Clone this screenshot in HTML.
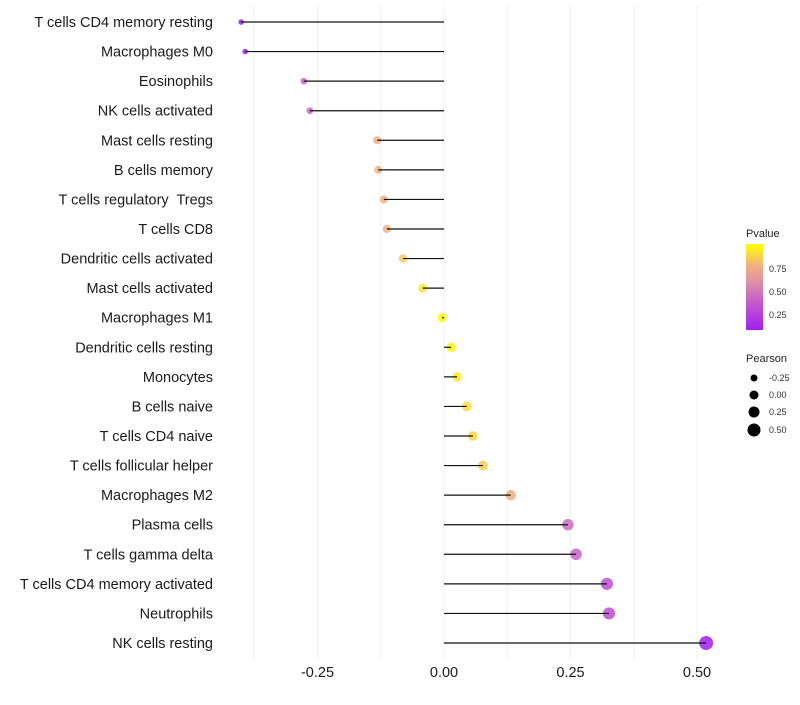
<!DOCTYPE html>
<html><head><meta charset="utf-8"><style>
body{margin:0;background:#fff;font-family:"Liberation Sans",sans-serif;}
svg text{font-family:"Liberation Sans",sans-serif;white-space:pre;}
</style></head><body>
<svg id="chart" width="800" height="700" xmlns="http://www.w3.org/2000/svg">
<defs><linearGradient id="pg" x1="0" y1="1" x2="0" y2="0">
<stop offset="0" stop-color="#a020f0"/><stop offset="0.35" stop-color="#c860c8"/><stop offset="0.55" stop-color="#dc90a8"/><stop offset="0.75" stop-color="#f0b080"/><stop offset="1" stop-color="#ffff00"/>
</linearGradient></defs>
<g id="grid"></g>
<g id="points"></g>
<g id="marks"></g>
<g id="labels"></g>
<g id="xticks"></g>
<g>
<text x="746" y="237" font-size="11" fill="#222">Pvalue</text>
<rect x="746" y="244" width="17" height="86" fill="url(#pg)"/>
<text x="769" y="272" font-size="9" fill="#333">0.75</text>
<text x="769" y="295" font-size="9" fill="#333">0.50</text>
<text x="769" y="318" font-size="9" fill="#333">0.25</text>
</g>
<g>
<text x="746" y="362" font-size="11" fill="#222">Pearson</text>
<circle cx="754" cy="378" r="3.5" fill="#000"/><text x="769" y="381" font-size="9" fill="#333">-0.25</text>
<circle cx="754" cy="395" r="4.5" fill="#000"/><text x="769" y="398" font-size="9" fill="#333">0.00</text>
<circle cx="754" cy="412" r="5.5" fill="#000"/><text x="769" y="415" font-size="9" fill="#333">0.25</text>
<circle cx="754" cy="430" r="6.5" fill="#000"/><text x="769" y="433" font-size="9" fill="#333">0.50</text>
</g>
</svg>
<script>
const categories=["T cells CD4 memory resting","Macrophages M0","Eosinophils","NK cells activated","Mast cells resting","B cells memory","T cells regulatory  Tregs","T cells CD8","Dendritic cells activated","Mast cells activated","Macrophages M1","Dendritic cells resting","Monocytes","B cells naive","T cells CD4 naive","T cells follicular helper","Macrophages M2","Plasma cells","T cells gamma delta","T cells CD4 memory activated","Neutrophils","NK cells resting"];
const pearson=[-0.401,-0.393,-0.277,-0.265,-0.132,-0.130,-0.119,-0.113,-0.081,-0.042,-0.004,0.014,0.026,0.045,0.057,0.077,0.132,0.245,0.261,0.322,0.326,0.518];
const pvalue=[0.1,0.1,0.42,0.42,0.77,0.77,0.77,0.77,0.85,0.92,0.99,0.97,0.94,0.9,0.88,0.85,0.76,0.45,0.42,0.32,0.32,0.05];
const xTicks=[-0.25,0,0.25,0.5];
const xTickLabels=["-0.25","0.00","0.25","0.50"];
const NS="http://www.w3.org/2000/svg";
const xs=v=>444+v*506;
const ys=i=>22+i*(621/21);
function col(p){
 const stops=[[0.09,[160,32,240]],[0.41,[200,96,200]],[0.59,[220,144,168]],[0.77,[240,176,128]],[1.0,[255,255,0]]];
 if(p<=stops[0][0])return "rgb("+stops[0][1]+")";
 for(let k=1;k<stops.length;k++){if(p<=stops[k][0]){const a=stops[k-1],b=stops[k],t=(p-a[0])/(b[0]-a[0]);return "rgb("+a[1].map((c,j)=>Math.round(c+(b[1][j]-c)*t)).join(",")+")";}}
 return "rgb(255,255,0)";
}
function mk(t,at,par){const e=document.createElementNS(NS,t);for(const k in at)e.setAttribute(k,at[k]);par.appendChild(e);return e;}
const grid=document.getElementById('grid'),marks=document.getElementById('marks'),points=document.getElementById('points'),labels=document.getElementById('labels'),xt=document.getElementById('xticks');
[-0.375,-0.25,-0.125,0,0.125,0.25,0.375,0.5].forEach(v=>{
 const l=mk('line',{x1:xs(v),x2:xs(v),y1:5,y2:660,stroke:'#f0f0f0','stroke-width':1},grid);
 
 
});
categories.forEach((c,i)=>{
 const y=ys(i);
 const r=4.6+4.6*pearson[i];
 const pt=mk('circle',{cx:xs(pearson[i]),cy:y,r:r,fill:col(pvalue[i]),'fill-opacity':0.85},points);
 
 
 const ln=mk('line',{x1:xs(0),x2:xs(pearson[i]),y1:y,y2:y,stroke:'#111','stroke-width':1.2},marks);
 
 
 const t=mk('text',{x:213,y:y+5,'text-anchor':'end','font-size':14.5,fill:'#1a1a1a'},labels);
 t.textContent=c;
 
 
});
xTicks.forEach((v,i)=>{
 const t=mk('text',{x:xs(v),y:677,'text-anchor':'middle','font-size':14.5,fill:'#1a1a1a'},xt);
 t.textContent=xTickLabels[i];
 
 
});
</script>
</body></html>
